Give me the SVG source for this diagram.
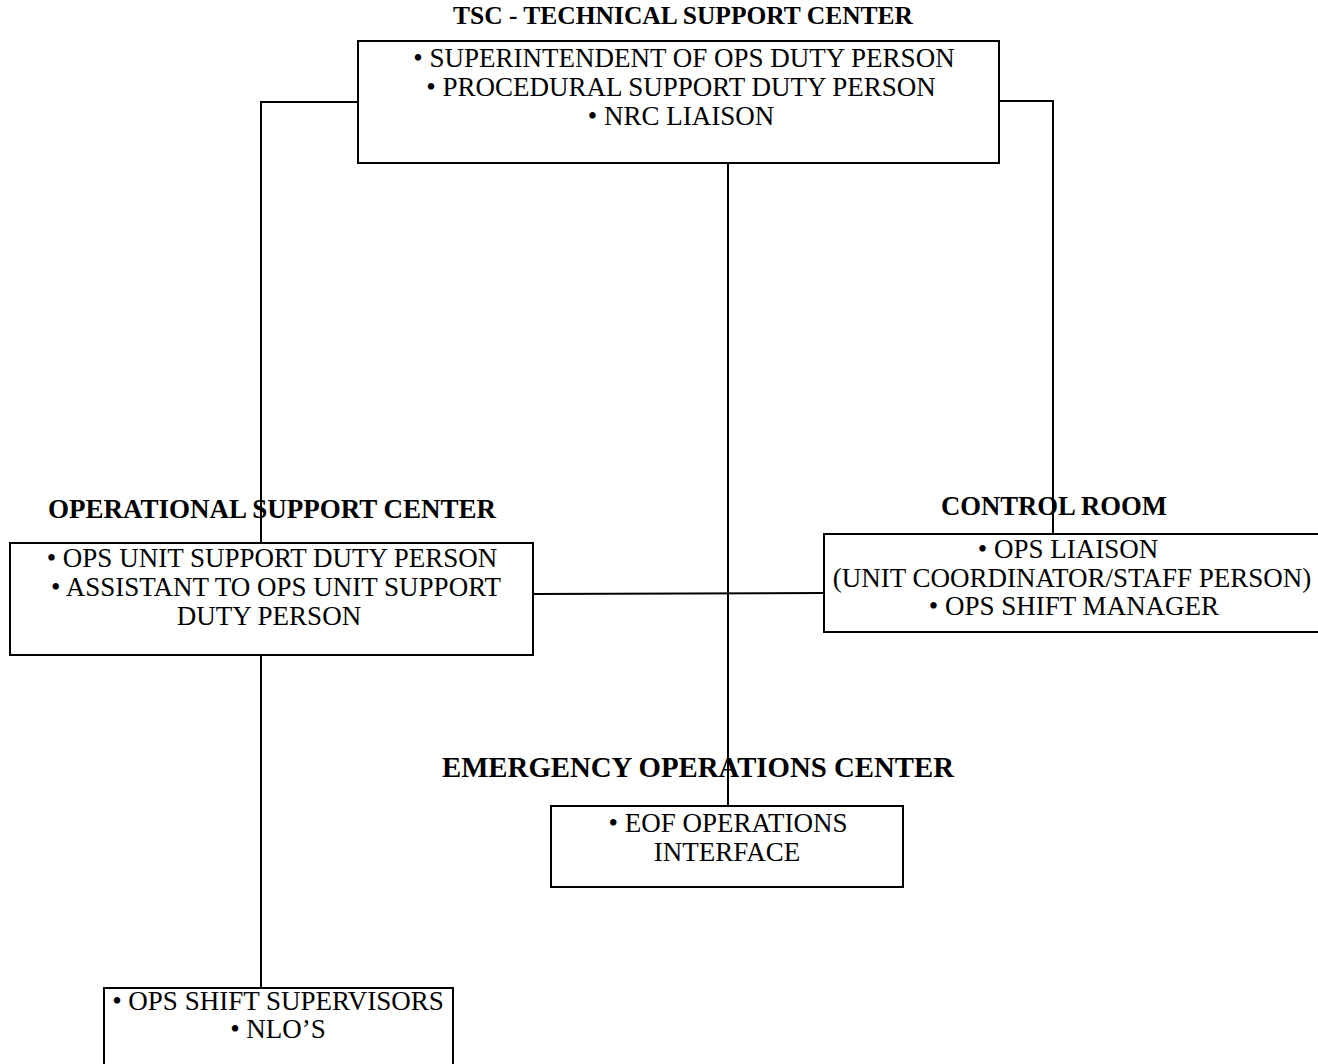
<svg xmlns="http://www.w3.org/2000/svg" width="1318" height="1064" viewBox="0 0 1318 1064">
<style>
.box{fill:#fff;stroke:#000;stroke-width:2}
.t{font-family:"Liberation Serif","Times New Roman",serif;font-size:27px;fill:#000;text-anchor:middle}
.h{font-family:"Liberation Serif","Times New Roman",serif;font-size:25.5px;font-weight:bold;fill:#000;text-anchor:middle}
.c{fill:none;stroke:#000;stroke-width:2}
</style>
<rect width="1318" height="1064" fill="#fff"/>
<g id="connectors">
<polyline class="c" points="358,102 261,102 261,543"/>
<polyline class="c" points="999,101 1053,101 1053,534"/>
<line class="c" x1="728" y1="163" x2="728" y2="806"/>
<line class="c" x1="533" y1="594" x2="824" y2="593"/>
<line class="c" x1="261" y1="655" x2="261" y2="988"/>
</g>
<g id="tsc">
<text class="h" x="683" y="24">TSC - TECHNICAL SUPPORT CENTER</text>
<rect class="box" x="358" y="41" width="641" height="122"/>
<text class="t" x="684" y="67">• SUPERINTENDENT OF OPS DUTY PERSON</text>
<text class="t" x="681" y="96">• PROCEDURAL SUPPORT DUTY PERSON</text>
<text class="t" x="681" y="125">• NRC LIAISON</text>
</g>
<g id="osc">
<rect class="box" x="10" y="543" width="523" height="112"/>
<text class="h" x="272" y="518" style="font-size:27px">OPERATIONAL SUPPORT CENTER</text>
<text class="t" x="272" y="567">• OPS UNIT SUPPORT DUTY PERSON</text>
<text class="t" x="276" y="596">• ASSISTANT TO OPS UNIT SUPPORT</text>
<text class="t" x="269" y="625">DUTY PERSON</text>
</g>
<g id="control-room">
<rect class="box" x="824" y="534" width="500" height="98"/>
<text class="h" x="1054" y="515" style="font-size:26.7px">CONTROL ROOM</text>
<text class="t" x="1068" y="558">• OPS LIAISON</text>
<text class="t" x="1072" y="587">(UNIT COORDINATOR/STAFF PERSON)</text>
<text class="t" x="1074" y="615">• OPS SHIFT MANAGER</text>
</g>
<g id="eoc">
<text class="h" x="698" y="777" style="font-size:28.8px">EMERGENCY OPERATIONS CENTER</text>
<rect class="box" x="551" y="806" width="352" height="81"/>
<text class="t" x="728" y="832">• EOF OPERATIONS</text>
<text class="t" x="727" y="861">INTERFACE</text>
</g>
<g id="shift">
<rect class="box" x="104" y="988" width="349" height="80"/>
<text class="t" x="278" y="1010">• OPS SHIFT SUPERVISORS</text>
<text class="t" x="278" y="1038">• NLO’S</text>
</g>
</svg>
